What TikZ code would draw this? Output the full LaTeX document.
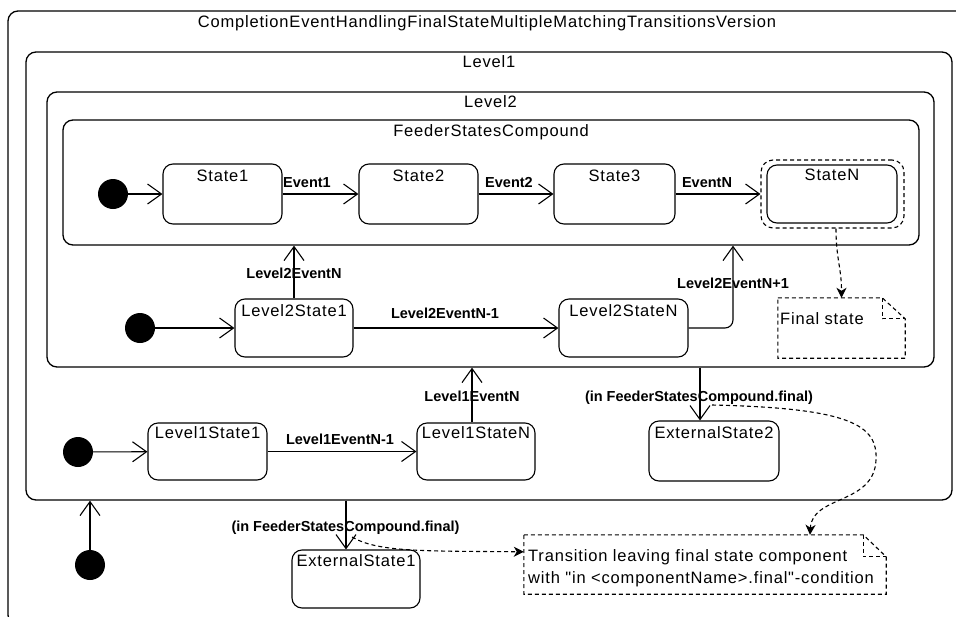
\documentclass[tikz,border=0pt]{standalone}
\usepackage{fontspec}
\setmainfont{Liberation Sans}
\newfontfamily\lsfont[LetterSpace=5]{Liberation Sans}
\usetikzlibrary{arrows.meta}
\tikzset{
  txt/.style={font=\lsfont\fontsize{16.5}{22}\selectfont, inner sep=0pt, anchor=base},
  elab/.style={font=\bfseries\fontsize{14.5}{17}\selectfont, inner sep=0pt, anchor=base},
  container/.style={draw, rounded corners=10pt, line width=1.3pt, inner sep=0pt},
  stbox/.style={draw, rounded corners=10pt, line width=1.1pt, inner sep=0pt},
  initdot/.style={circle, fill=black, minimum size=30pt, inner sep=0pt},
  trans/.style={line width=1.1pt, -{Straight Barb[length=14pt,width=20pt,line width=1.1pt]}},
  notelink/.style={line width=1.1pt, dash pattern=on 4pt off 3pt, -{Stealth[length=10pt,width=10pt,inset=3pt]}},
  notedash/.style={line width=1.1pt, dash pattern=on 4pt off 3pt},
  notebox/.style={draw=none, inner sep=0pt},
}
\begin{document}
\begin{tikzpicture}[x=1pt,y=-1pt]
\useasboundingbox (0,0) rectangle (956,616);
\clip (0,0) rectangle (956,616);
% containers
\node[container, minimum width=958, minimum height=614] (outer) at (487,318) {};
\node[txt] at ([yshift=-17pt]outer.north) {CompletionEventHandlingFinalStateMultipleMatchingTransitionsVersion};
\node[container, minimum width=926, minimum height=448] (level1) at (489,276) {};
\node[txt] at ([yshift=-16pt]level1.north) {Level1};
\node[container, minimum width=887, minimum height=275] (level2) at (490.5,229.5) {};
\node[txt] at ([yshift=-16pt]level2.north) {Level2};
\node[container, minimum width=856, minimum height=125] (feeder) at (491,182.5) {};
\node[txt] at ([yshift=-17pt]feeder.north) {FeederStatesCompound};
% feeder row
\node[initdot] (i0) at (113,194) {};
\node[stbox, minimum width=119, minimum height=60] (s1) at (222.5,194) {};
\node[txt] at ([yshift=-18pt]s1.north) {State1};
\node[stbox, minimum width=119, minimum height=60] (s2) at (418.5,194) {};
\node[txt] at ([yshift=-18pt]s2.north) {State2};
\node[stbox, minimum width=121, minimum height=60] (s3) at (614.5,194) {};
\node[txt] at ([yshift=-18pt]s3.north) {State3};
\node[draw, notedash, rounded corners=12pt, minimum width=143, minimum height=68, inner sep=0pt] (sNo) at (832.5,194) {};
\node[stbox, minimum width=130, minimum height=58] (sN) at (832,194) {};
\node[txt] at ([yshift=-16pt]sN.north) {StateN};
\draw[trans] (i0) -- (s1);
\draw[trans] (s1) -- (s2);
\draw[trans] (s2) -- (s3);
\draw[trans] (s3) -- (sNo);
\node[elab] at (307,187) {Event1};
\node[elab] at (509,187) {Event2};
\node[elab] at (707,187) {EventN};
% level2 row
\node[initdot] (i1) at (140,328) {};
\node[stbox, minimum width=118, minimum height=58] (l2s1) at (294,328) {};
\node[txt] at ([yshift=-18pt]l2s1.north) {Level2State1};
\node[stbox, minimum width=129, minimum height=58] (l2sN) at (623.5,328) {};
\node[txt] at ([yshift=-18pt]l2sN.north) {Level2StateN};
\coordinate (x733) at (733,0);
\draw[trans] (i1) -- (l2s1);
\draw[trans] (l2s1) -- (l2sN);
\draw[trans] (l2s1.north) -- (l2s1.north |- feeder.south);
\draw[trans, rounded corners=8pt] (l2sN.east) -| (x733 |- feeder.south);
\node[elab] at (294,278) {Level2EventN};
\node[elab] at (445,318) {Level2EventN-1};
\node[elab] at (733,288) {Level2EventN+1};
% final state note
\node[notebox, minimum width=127, minimum height=60] (fnote) at (841.5,328) {};
\draw[notedash] (fnote.north west) -- ([xshift=-23pt]fnote.north east) -- ([yshift=-21pt]fnote.north east) -- (fnote.south east) -- (fnote.south west) -- cycle;
\draw[notedash] ([xshift=-23pt]fnote.north east) |- ([yshift=-21pt]fnote.north east);
\node[txt, anchor=base west] at (780,324) {Final state};
\draw[notelink] ([xshift=3.5pt]sNo.south) .. controls +(0,30) and +(0,-30) .. (fnote.north);
% level1 row
\node[initdot] (i2) at (78,452) {};
\node[stbox, minimum width=119, minimum height=57] (l1s1) at (207.5,451.5) {};
\node[txt] at ([yshift=-16pt]l1s1.north) {Level1State1};
\node[stbox, minimum width=118, minimum height=57] (l1sN) at (476,451.5) {};
\node[txt] at ([yshift=-16pt]l1sN.north) {Level1StateN};
\node[stbox, minimum width=130, minimum height=60] (es2) at (714,451) {};
\node[txt] at ([yshift=-18pt]es2.north) {ExternalState2};
\coordinate (x472) at (472,0);
\coordinate (x700) at (700,0);
\draw[trans] (i2) -- (l1s1);
\draw[trans] (l1s1) -- (l1sN);
\draw[trans] (x472 |- l1sN.north) -- (x472 |- level2.south);
\draw[trans] (x700 |- level2.south) -- (x700 |- es2.north);
\node[elab] at (340,444) {Level1EventN-1};
\node[elab] at (472,401) {Level1EventN};
\node[elab] at (699,401) {(in FeederStatesCompound.final)};
% bottom
\node[initdot] (i3) at (90,565) {};
\draw[trans] (i3) -- (i3 |- level1.south);
\node[stbox, minimum width=128, minimum height=58] (es1) at (356,579) {};
\node[txt] at ([yshift=-17pt]es1.north) {ExternalState1};
\coordinate (x346) at (346,0);
\draw[trans] (x346 |- level1.south) -- (x346 |- es1.north);
\node[elab] at (345.5,531) {(in FeederStatesCompound.final)};
% transition note
\node[notebox, minimum width=362, minimum height=59] (tnote) at (705,564.5) {};
\draw[notedash] (tnote.north west) -- ([xshift=-23pt]tnote.north east) -- ([yshift=-22pt]tnote.north east) -- (tnote.south east) -- (tnote.south west) -- cycle;
\draw[notedash] ([xshift=-23pt]tnote.north east) |- ([yshift=-22pt]tnote.north east);
\node[txt, anchor=north west, align=left] at (528,549) {Transition leaving final state component\\with "in <componentName>.final"-condition};
\coordinate (lab2) at (712,405);
\coordinate (lab1) at (352,537);
\coordinate (x810) at (810,0);
\draw[notelink] (lab2) .. controls (850,408) and (878,425) .. (876,460) .. controls (874,505) and (812,495) .. (x810 |- tnote.north);
\draw[notelink] (lab1) .. controls (378,552) and (420,551) .. ([yshift=-17pt]tnote.north west);
\end{tikzpicture}
\end{document}
